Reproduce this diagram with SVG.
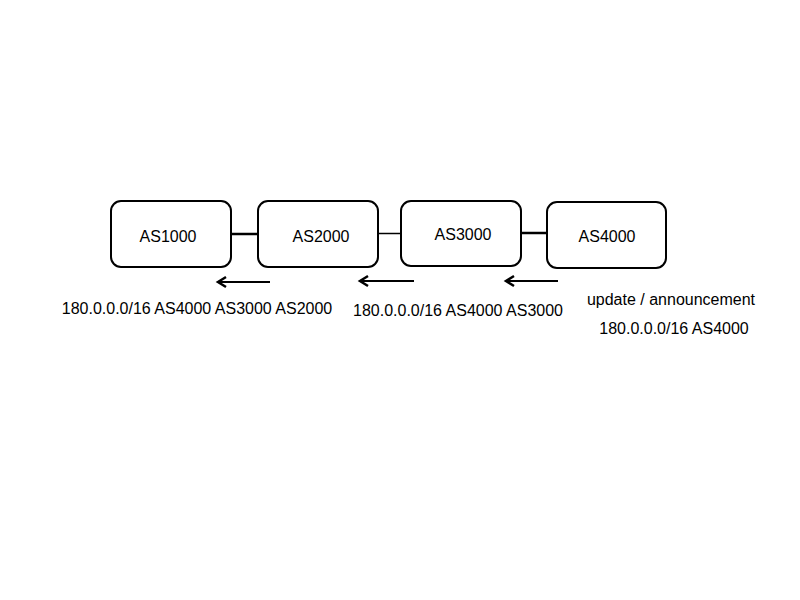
<svg xmlns="http://www.w3.org/2000/svg" width="800" height="600" viewBox="0 0 800 600">
<defs>
<style>
.box{fill:#fff;stroke:#000;stroke-width:2}
.t{font-family:"Liberation Sans",Arial,sans-serif;font-size:16px;fill:#000;text-anchor:middle}
.link{stroke:#000;fill:none}
.arr{stroke:#000;fill:none;stroke-width:2}
.head{fill:none;stroke:#000;stroke-width:2.5}
</style>
</defs>
<rect width="800" height="600" fill="#fff"/>
<g id="connectors">
<line class="link" x1="231" y1="234" x2="258" y2="234" stroke-width="2.5"/>
<line class="link" x1="378" y1="233.5" x2="401" y2="233.5" stroke-width="1.5"/>
<line class="link" x1="521" y1="233" x2="547" y2="233" stroke-width="2.5"/>
<g id="arrow1">
<line class="arr" x1="270" y1="282" x2="218" y2="282" stroke-width="1.8"/>
<path class="head" d="M226,277 L218,282 L226,287"/>
</g>
<g id="arrow2">
<line class="arr" x1="414" y1="281" x2="360" y2="281" stroke-width="1.8"/>
<path class="head" d="M368,276 L360,281 L368,286"/>
</g>
<g id="arrow3">
<line class="arr" x1="558" y1="281" x2="506" y2="281" stroke-width="2.5"/>
<path class="head" d="M514,276 L506,281 L514,286" stroke-width="3"/>
</g>
</g>
<g id="as1000">
<rect class="box" x="111" y="201" width="120" height="66" rx="10"/>
<text class="t" x="168" y="242">AS1000</text>
</g>
<g id="as2000">
<rect class="box" x="258" y="201" width="120" height="66" rx="10"/>
<text class="t" x="321" y="242">AS2000</text>
</g>
<g id="as3000">
<rect class="box" x="401" y="201" width="120" height="65" rx="10"/>
<text class="t" x="463" y="240">AS3000</text>
</g>
<g id="as4000">
<rect class="box" x="547" y="202" width="119" height="66" rx="10"/>
<text class="t" x="607" y="242">AS4000</text>
</g>
<g id="labels">
<text class="t" x="197" y="314">180.0.0.0/16 AS4000 AS3000 AS2000</text>
<text class="t" x="458" y="316">180.0.0.0/16 AS4000 AS3000</text>
<text class="t" x="671" y="305">update / announcement</text>
<text class="t" x="674" y="334">180.0.0.0/16 AS4000</text>
</g>
</svg>
